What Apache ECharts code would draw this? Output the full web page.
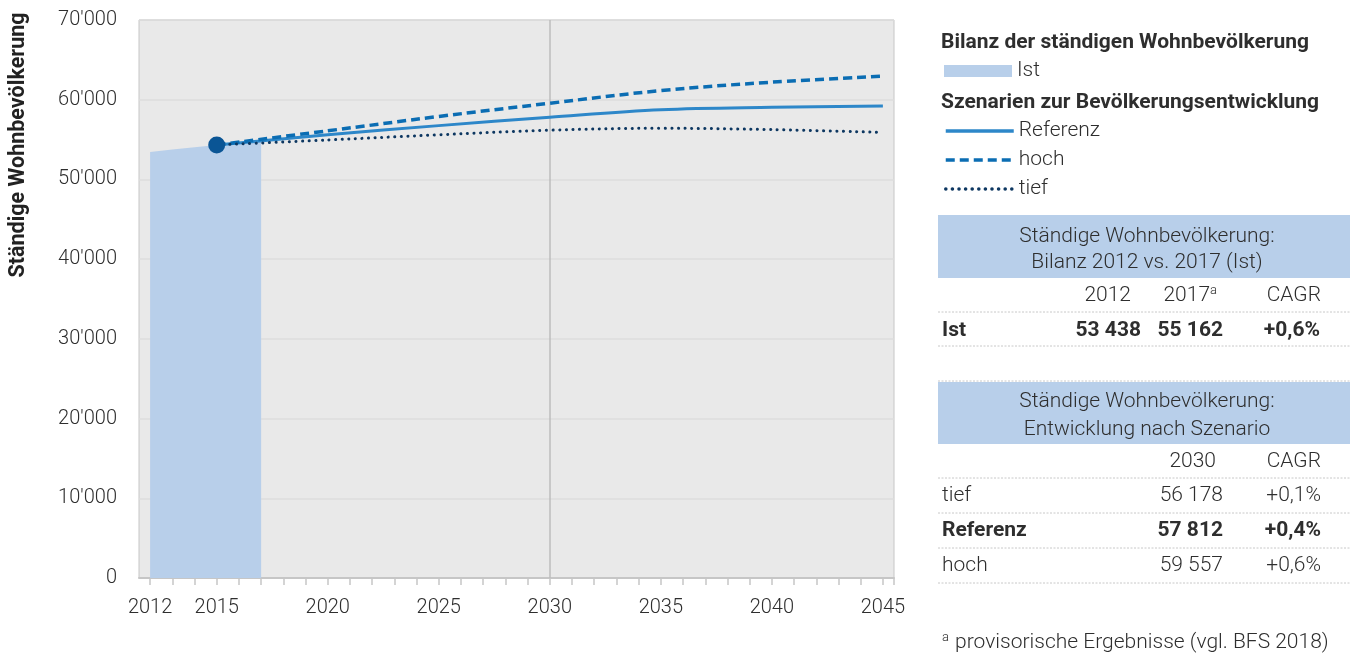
<!DOCTYPE html>
<html>
<head>
<meta charset="utf-8">
<script src="https://cdn.jsdelivr.net/npm/echarts@6/dist/echarts.min.js"></script>
<style>
html,body{margin:0;padding:0;background:#fff;}
#c{width:1359px;height:657px;}
</style>
</head>
<body>
<div id="c"></div>
<script>
// ---- data ----
const istYears = [2012, 2013, 2014, 2015, 2016, 2017];
const istValues = [53438, 53750, 54050, 54330, 54650, 54950];
const scenYears = [2015, 2020, 2025, 2030, 2035, 2040, 2045];
const referenzValues = [54330, 55600, 56750, 57812, 58750, 59050, 59200];
const hochValues = [54330, 56100, 57900, 59557, 61150, 62200, 62950];
const tiefValues = [54330, 54950, 55600, 56178, 56420, 56250, 55900];
const dotPoint = [2015, 54330];
const xLabelYears = [2012, 2015, 2020, 2025, 2030, 2035, 2040, 2045];

const tab1Header = ['Ständige Wohnbevölkerung:', 'Bilanz 2012 vs. 2017 (Ist)'];
const tab1Cols = ['2012', '2017{sup|a}', 'CAGR'];
const tab1Rows = [['Ist', '53 438', '55 162', '+0,6%', true]];
const tab2Header = ['Ständige Wohnbevölkerung:', 'Entwicklung nach Szenario'];
const tab2Cols = ['2030', 'CAGR'];
const tab2Rows = [
  ['tief', '56 178', '+0,1%', false],
  ['Referenz', '57 812', '+0,4%', true],
  ['hoch', '59 557', '+0,6%', false]
];
const footnote = '{sup|a} provisorische Ergebnisse (vgl. BFS 2018)';

// ---- helpers ----
const FONT = 'Roboto';
const TXT = '#2e2e2e';
const FS = 21;
const pair = (xs, ys) => xs.map((x, i) => [x, ys[i]]);
const ticks = [];
for (let y = 2012; y <= 2045; y++) ticks.push(y);
ticks.push(2045.5);

const g = [];
function text(x, y, t, opt) {
  opt = opt || {};
  g.push({
    type: 'text', x: x, y: y, silent: true,
    style: {
      text: t, fill: TXT, font: (opt.bold ? 'bold ' : '300 ') + (opt.size || FS) + 'px ' + FONT,
      align: opt.align || 'left', verticalAlign: 'middle',
      rich: { sup: { fontSize: 13, fontFamily: FONT, fontWeight: 300, fill: TXT, padding: [0, 1, 10, 0] } }
    }
  });
}
function dots(y) {
  g.push({ type: 'line', silent: true, shape: { x1: 938, y1: y, x2: 1350, y2: y },
    style: { stroke: '#c8c8c8', lineWidth: 1, lineDash: [2, 1.5] } });
}
function rect(y1, y2) {
  g.push({ type: 'rect', silent: true, shape: { x: 938, y: y1, width: 412, height: y2 - y1 },
    style: { fill: '#b8cfea' } });
}

// y axis name
g.push({ type: 'text', x: 19, y: 145, rotation: Math.PI / 2, silent: true,
  style: { text: 'Ständige Wohnbevölkerung', fill: '#222', font: 'bold 21.5px ' + FONT,
    align: 'center', verticalAlign: 'middle' } });

// legend headings
text(941, 43, 'Bilanz der ständigen Wohnbevölkerung', { bold: true, size: 21 });
text(941, 103, 'Szenarien zur Bevölkerungsentwicklung', { bold: true, size: 21 });

// table 1
rect(215, 278);
text(1147, 237, tab1Header[0], { align: 'center' });
text(1147, 263, tab1Header[1], { align: 'center' });
const t1x = [1131, 1218, 1321];
tab1Cols.forEach((c, i) => text(t1x[i], 296, c, { align: 'right' }));
dots(312);
const t1vx = [1141, 1223, 1320];
tab1Rows.forEach((r, k) => {
  const y = 331 + k * 35;
  text(942, y, r[0], { bold: r[4] });
  for (let i = 1; i <= 3; i++) text(t1vx[i - 1], y, r[i], { bold: r[4], align: 'right' });
  dots(y + 15);
});

// table 2
dots(381);
rect(382, 444);
text(1147, 402, tab2Header[0], { align: 'center' });
text(1147, 430, tab2Header[1], { align: 'center' });
const t2x = [1216, 1321];
tab2Cols.forEach((c, i) => text(t2x[i], 462, c, { align: 'right' }));
dots(478);
const t2vx = [1223, 1321];
tab2Rows.forEach((r, k) => {
  const y = 496 + k * 35;
  text(942, y, r[0], { bold: r[3] });
  text(t2vx[0], y, r[1], { bold: r[3], align: 'right' });
  text(t2vx[1], y, r[2], { bold: r[3], align: 'right' });
  dots(y + 17);
});
text(942, 643, footnote, {});

const chart = echarts.init(document.getElementById('c'), null, { renderer: 'canvas' });
chart.setOption({
  animation: false,
  textStyle: { fontFamily: FONT },
  grid: { left: 139, top: 20, right: 465, bottom: 79, show: true,
    backgroundColor: '#e9e9e9', borderColor: '#c6c6c6', borderWidth: 1 },
  legend: [
    { left: 939, top: 55, selectedMode: false, itemWidth: 68, itemHeight: 12, itemGap: 5,
      textStyle: { fontSize: FS, fontWeight: 300, color: TXT, lineHeight: 22, fontFamily: FONT },
      data: [{ name: 'Ist', icon: 'rect', itemStyle: { color: '#b8cfea' } }] },
    { left: 939, top: 115, orient: 'vertical', selectedMode: false, itemWidth: 68, itemHeight: 14, itemGap: 7,
      textStyle: { fontSize: FS, fontWeight: 300, color: TXT, lineHeight: 22, fontFamily: FONT },
      itemStyle: { opacity: 0 },
      lineStyle: { width: 3.5 },
      data: ['Referenz', 'hoch', 'tief'] }
  ],
  xAxis: {
    type: 'value', min: 2011.5, max: 2045.5,
    axisLine: { show: true, lineStyle: { color: '#c6c6c6', width: 2 } },
    axisTick: { show: true, customValues: ticks, length: 7, lineStyle: { color: '#c6c6c6', width: 1.5 } },
    axisLabel: { customValues: xLabelYears, fontSize: 20, fontWeight: 300, color: TXT, margin: 20, fontFamily: FONT,
      formatter: v => String(v) },
    splitLine: { show: false }
  },
  yAxis: {
    type: 'value', min: 0, max: 70000, interval: 10000,
    axisLine: { show: false }, axisTick: { show: false },
    axisLabel: { fontSize: 20, fontWeight: 300, color: TXT, margin: 22, fontFamily: FONT,
      formatter: v => v === 0 ? '0' : (v / 1000) + "'000" },
    splitLine: { show: true, lineStyle: { color: '#dcdcdc', width: 1.5 } }
  },
  series: [
    { name: 'Ist', type: 'line', data: pair(istYears, istValues), symbol: 'none',
      lineStyle: { width: 0, color: '#b8cfea' }, itemStyle: { color: '#b8cfea' },
      areaStyle: { color: '#b8cfea', opacity: 1 }, z: 1 },
    { name: 'Referenz', type: 'line', data: pair(scenYears, referenzValues), symbol: 'none', smooth: 0.35,
      lineStyle: { width: 3, color: '#2d87c9' }, itemStyle: { color: '#2d87c9' }, z: 4,
      markLine: { silent: true, symbol: 'none', label: { show: false },
        lineStyle: { color: '#bcbcbc', width: 1.5, type: 'solid' }, data: [{ xAxis: 2030 }], z: 2 } },
    { name: 'hoch', type: 'line', data: pair(scenYears, hochValues), symbol: 'none', smooth: 0.35,
      lineStyle: { width: 3.5, color: '#0b6db3', type: [9, 5] }, itemStyle: { color: '#0b6db3' }, z: 4 },
    { name: 'tief', type: 'line', data: pair(scenYears, tiefValues), symbol: 'none', smooth: 0.35,
      lineStyle: { width: 3, color: '#0d3761', type: [0.1, 6.5], cap: 'round' }, itemStyle: { color: '#0d3761' }, z: 4 },
    { name: 'dot', type: 'scatter', data: [dotPoint], symbolSize: 17, itemStyle: { color: '#0a5595', opacity: 1 }, z: 6 }
  ],
  graphic: g
});
</script>
</body>
</html>
